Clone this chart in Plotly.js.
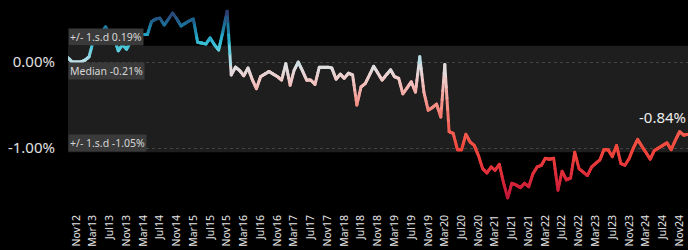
<!DOCTYPE html>
<html>
<head>
<meta charset="utf-8">
<script src="https://cdn.plot.ly/plotly-3.0.1.min.js"></script>
<style>
html,body{margin:0;padding:0;background:#000;}
#chart{width:688px;height:250px;}
</style>
</head>
<body>
<div id="chart"></div>
<script>
// ---- data (monthly, starting Sep 2012) ----
const startYear = 2012;
const startMonthIndex = 8; // September (0-based)
const values = [
  0.05, 0.00, 0.00, 0.00, 0.02, 0.06, 0.23, 0.27, 0.33, 0.41,
  0.31, 0.29, 0.13, 0.20, 0.15, 0.24, 0.29, 0.32, 0.32, 0.32,
  0.47, 0.50, 0.51, 0.43, 0.50, 0.57, 0.50, 0.42, 0.45, 0.48,
  0.50, 0.23, 0.22, 0.21, 0.28, 0.20, 0.14, 0.35, 0.59, -0.15,
  -0.06, -0.10, -0.16, -0.07, -0.20, -0.31, -0.17, -0.14, -0.11, -0.14,
  -0.17, -0.21, -0.02, -0.27, -0.10, 0.00, -0.10, -0.21, -0.21, -0.26,
  -0.06, -0.06, -0.06, -0.07, -0.20, -0.14, -0.19, -0.13, -0.15, -0.50,
  -0.29, -0.25, -0.15, -0.05, -0.13, -0.21, -0.15, -0.09, -0.17, -0.19,
  -0.37, -0.30, -0.23, -0.35, 0.06, -0.35, -0.56, -0.53, -0.49, -0.64,
  -0.03, -0.81, -0.83, -1.02, -1.02, -0.84, -0.93, -0.97, -1.09, -1.24,
  -1.29, -1.22, -1.26, -1.19, -1.40, -1.58, -1.41, -1.43, -1.46, -1.41,
  -1.45, -1.30, -1.22, -1.20, -1.12, -1.13, -1.12, -1.49, -1.27, -1.37,
  -1.35, -1.05, -1.24, -1.28, -1.32, -1.22, -1.18, -1.14, -1.02, -1.02,
  -1.10, -0.97, -1.18, -1.20, -1.12, -1.00, -0.90, -0.98, -1.05, -1.13,
  -1.03, -1.00, -0.97, -0.94, -1.02, -0.91, -0.81, -0.85, -0.84
];
const bandUpper = 0.19;
const bandLower = -1.05;
const medianValue = -0.21;
const bandLabels = ['+/- 1.s.d 0.19%', 'Median -0.21%', '+/- 1.s.d -1.05%'];
const yTickVals = [0, -1];
const yTickText = ['0.00%', '-1.00%'];
const lastLabel = '-0.84%';

// ---- styling helpers ----
const FONT = '"Noto Sans", "Open Sans", sans-serif';
const colorStops = [
  [-1.60, [192, 20, 56]],
  [-1.30, [222, 44, 58]],
  [-1.00, [240, 72, 60]],
  [-0.70, [244, 104, 92]],
  [-0.45, [245, 150, 142]],
  [-0.20, [240, 200, 198]],
  [-0.05, [222, 222, 224]],
  [0.05, [170, 220, 230]],
  [0.20, [60, 196, 214]],
  [0.32, [36, 160, 196]],
  [0.45, [28, 110, 150]],
  [0.60, [48, 56, 110]]
];
function colorFor(v) {
  if (v <= colorStops[0][0]) return colorStops[0][1];
  for (let k = 1; k < colorStops.length; k++) {
    if (v <= colorStops[k][0]) {
      const a = colorStops[k - 1], b = colorStops[k];
      const t = (v - a[0]) / (b[0] - a[0]);
      return a[1].map((c, j) => Math.round(c + (b[1][j] - c) * t));
    }
  }
  return colorStops[colorStops.length - 1][1];
}

const dates = values.map((_, i) => Date.UTC(startYear, startMonthIndex + i, 1));

// Build coloured line pieces grouped by colour bin
const NB = 70, vmin = -1.65, vmax = 0.65, K = 6;
const bins = Array.from({length: NB}, () => ({x: [], y: []}));
for (let i = 0; i < values.length - 1; i++) {
  const x0 = dates[i], x1 = dates[i + 1], y0 = values[i], y1 = values[i + 1];
  for (let s = 0; s < K; s++) {
    const ta = s / K, tb = (s + 1) / K;
    const xa = x0 + (x1 - x0) * ta, xb = x0 + (x1 - x0) * tb;
    const ya = y0 + (y1 - y0) * ta, yb = y0 + (y1 - y0) * tb;
    const vm = (ya + yb) / 2;
    let bi = Math.round((vm - vmin) / (vmax - vmin) * (NB - 1));
    bi = Math.max(0, Math.min(NB - 1, bi));
    bins[bi].x.push(xa, xb, null);
    bins[bi].y.push(ya, yb, null);
  }
}
const traces = [];
bins.forEach((b, bi) => {
  if (!b.x.length) return;
  const v = vmin + (vmax - vmin) * bi / (NB - 1);
  const c = colorFor(v);
  traces.push({
    type: 'scatter', mode: 'lines',
    x: b.x.map(t => t === null ? null : new Date(t).toISOString()),
    y: b.y,
    line: {color: 'rgb(' + c.join(',') + ')', width: 3},
    hoverinfo: 'skip', showlegend: false, connectgaps: false
  });
});

const xStart = new Date(dates[0]).toISOString();
const xEnd = new Date(dates[dates.length - 1]).toISOString();

const labelStyle = {
  xref: 'paper', x: 0, xanchor: 'left', yref: 'y', yanchor: 'bottom',
  showarrow: false, bgcolor: '#3a3a3a', borderpad: 1,
  font: {family: FONT, size: 10.5, color: '#d6d6d6'}
};

const layout = {
  width: 688, height: 250,
  margin: {l: 68, r: 0, t: 0, b: 38},
  paper_bgcolor: '#000', plot_bgcolor: '#000',
  showlegend: false,
  xaxis: {
    type: 'date', range: [xStart, xEnd],
    tick0: '2012-11-01', dtick: 'M4', tickformat: '%b%y',
    tickangle: -90, showgrid: false, zeroline: false, showline: false,
    ticks: '', tickfont: {family: FONT, size: 10.5, color: '#e6e6e6'}
  },
  yaxis: {
    range: [-1.744, 0.721],
    tickvals: yTickVals, ticktext: yTickText,
    showgrid: true, gridcolor: '#444', griddash: '3px,3px', gridwidth: 1,
    zeroline: false, showline: false,
    ticks: 'outside', ticklen: 9, tickcolor: 'rgba(0,0,0,0)',
    tickfont: {family: FONT, size: 15, color: '#e0e0e0'}
  },
  shapes: [{
    type: 'rect', xref: 'paper', x0: 0, x1: 1, yref: 'y',
    y0: bandLower, y1: bandUpper, fillcolor: '#1e1e1e',
    line: {width: 0}, layer: 'below'
  }],
  annotations: [
    Object.assign({}, labelStyle, {y: bandUpper, text: bandLabels[0]}),
    Object.assign({}, labelStyle, {y: medianValue, text: bandLabels[1]}),
    Object.assign({}, labelStyle, {y: bandLower, text: bandLabels[2]}),
    {
      xref: 'x', x: xEnd, yref: 'y', y: values[values.length - 1],
      xanchor: 'right', yanchor: 'bottom', yshift: 5, showarrow: false,
      text: lastLabel, font: {family: FONT, size: 15, color: '#ececec'}
    }
  ]
};

Plotly.newPlot('chart', traces, layout, {staticPlot: true, displayModeBar: false}).then(() => {
  document.querySelectorAll('.scatterlayer .js-line').forEach(p => {
    p.style.strokeLinecap = 'round';
    p.style.strokeLinejoin = 'round';
  });
});
</script>
</body>
</html>
